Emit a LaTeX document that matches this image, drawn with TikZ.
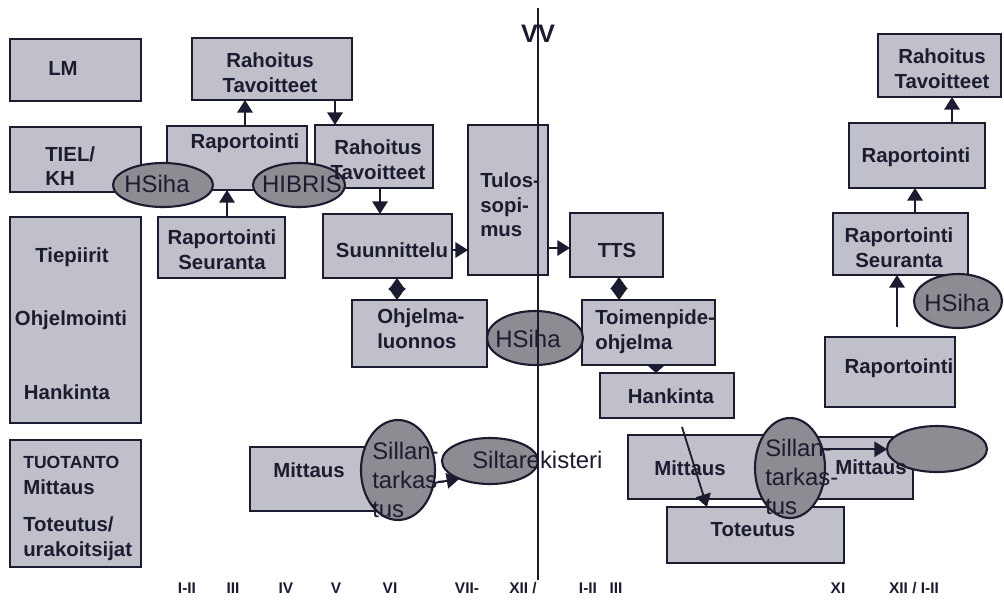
\documentclass[tikz,border=0pt]{standalone}
\usepackage{fontspec}
\setmainfont{Liberation Sans}
\usetikzlibrary{shapes.geometric,arrows.meta}

\definecolor{boxfill}{HTML}{C0C0CA}
\definecolor{ellfill}{HTML}{8C8C92}
\definecolor{ink}{HTML}{1C1C30}

\tikzset{
  box/.style={draw=ink, line width=1.6pt, fill=boxfill, inner sep=0pt, outer sep=0pt},
  ell/.style={ellipse, draw=ink, line width=1.5pt, fill=ellfill, inner sep=0pt, outer sep=0pt},
  bt/.style={font=\bfseries\fontsize{14.5}{17.5}\selectfont, text=ink, align=center, inner sep=0pt},
  btl/.style={bt, align=left},
  et/.style={font=\fontsize{17}{20.5}\selectfont, text=ink, inner sep=0pt, align=left},
  ax/.style={font=\bfseries\fontsize{11}{12}\selectfont, text=ink, inner sep=0pt},
  arr/.style={draw=ink, line width=1.3pt, -{Triangle[width=11pt,length=9pt]}},
  dia/.style={draw=ink, line width=1.3pt, {Triangle[width=12pt,length=8.6pt]}-{Triangle[width=12pt,length=8.6pt]}},
  tiny/.style={draw=ink, line width=1.3pt, -{Triangle[width=11pt,length=5pt]}},
}

% rectangle node from its corners (x1,y1)-(x2,y2), in pixel units
\newcommand\boxat[5]{\node[box, minimum width={(#4-#2)*0.025cm}, minimum height={(#5-#3)*0.025cm}] (#1) at ({(#2+#4)/2},{(#3+#5)/2}) {};}
% ellipse node from centre and radii
\newcommand\ellat[5]{\node[ell, minimum width={2*#4*0.025cm}, minimum height={2*#5*0.025cm}] (#1) at (#2,#3) {};}

\begin{document}
\begin{tikzpicture}[x=0.025cm, y=-0.025cm]
\useasboundingbox (0,0) rectangle (1004,600);
\fill[white] (0,0) rectangle (1004,600);

% organisation column
\boxat{lm}{10}{39}{141}{101}
\boxat{tiel}{10}{127}{141}{192}
\boxat{tiep}{10}{217}{141}{423}
\boxat{tuot}{10}{440}{141}{567}

% planning chain
\boxat{rt1}{192}{38}{352}{100}
\boxat{rap1}{167}{126}{307}{190}
\boxat{rt2}{315}{125}{433}{188}
\boxat{raps1}{158}{217}{285}{278}
\boxat{suun}{323}{214}{452}{278}
\boxat{tulos}{468}{125}{548}{275}
\boxat{tts}{570}{213}{663}{277}
\boxat{ohj}{352}{300}{487}{367}
\boxat{toim}{582}{300}{715}{365}
\boxat{hank}{600}{373}{734}{418}
\boxat{mit1}{250}{447}{385}{511}
\boxat{mit2}{628}{435}{800}{499}
\boxat{mit3}{770}{437}{913}{499}
\boxat{tot}{667}{507}{844}{563}

% reporting column
\boxat{rt3}{878}{34}{1001}{97}
\boxat{rap2}{849}{123}{985}{188}
\boxat{raps2}{833}{213}{968}{275}
\boxat{rapb}{825}{337}{955}{407}

% connectors
\draw[arr] (rap1.north -| 245,0) -- (rt1.south -| 245,0);
\draw[arr] (rt1.south -| 335,0) -- (rt2.north -| 335,0);
\draw[arr] (raps1.north -| 227,0) -- (rap1.south -| 227,0);
\draw[arr] (rt2.south -| 380,0) -- (suun.north -| 380,0);
\draw[arr] (suun.east |- 0,250) -- (tulos.west |- 0,250);
\draw[arr] (tulos.east |- 0,248) -- (tts.west |- 0,248);
\draw[dia] (suun.south -| 397,0) -- (ohj.north -| 397,0);
\draw[dia] (tts.south -| 619,0) -- (toim.north -| 619,0);
\draw[tiny] (toim.south -| 656,0) -- (hank.north -| 656,0);
\coordinate (hk) at (682,427);
\draw[arr] (hk) -- (tot.north -| 707,0);
\coordinate (rb) at (897,327);
\draw[arr] (rb) -- (raps2.south -| 897,0);
\draw[arr] (raps2.north -| 915,0) -- (rap2.south -| 915,0);
\draw[arr] (rap2.north -| 952,0) -- (rt3.south -| 952,0);

% systems
\ellat{hs1}{163}{185}{50}{22}
\ellat{hib}{299}{185}{46}{22}
\ellat{hs2}{535}{338}{48}{27}
\ellat{stl}{398}{470}{37}{50}
\ellat{sr}{490}{461}{48}{23}
\ellat{str}{790}{468}{35}{50}
\ellat{er}{937}{449}{50}{23}
\ellat{hs3}{958}{301}{44}{27}

\draw[arr] (stl.-20) -- (sr.210);
\draw[arr] (str.30) -- (er.west |- str.30);

% year boundary
\coordinate (vtop) at (538,8);
\coordinate (vbot) at (538,580);
\draw[ink, line width=1.2pt] (vtop) -- (vbot);
\node[font=\bfseries\fontsize{18}{20}\selectfont, text=ink, inner sep=0pt] (vv) at (538,34) {VV};

% box texts
\node[bt] (t-lm) at (63,68) {LM};
\node[btl, anchor=west] (t-tiel) at (45,166) {TIEL/\\KH};
\node[bt] (t-tiep1) at (72,257) {Tiepiirit};
\node[bt] (t-tiep2) at (71,320) {Ohjelmointi};
\node[bt] (t-tiep3) at (67,392) {Hankinta};
\node[bt, anchor=west, font=\bfseries\fontsize{12.5}{14}\selectfont] (t-tuot1) at (23,462) {TUOTANTO};
\node[bt, anchor=west] (t-tuot2) at (23,487) {Mittaus};
\node[btl, anchor=west] (t-tuot3) at (23,539) {Toteutus/\\urakoitsijat};

\node[bt] (t-rt1) at (270,73) {Rahoitus\\Tavoitteet};
\node[bt] (t-rap1) at (245,143) {Raportointi};
\node[bt] (t-rt2) at (378,160) {Rahoitus\\Tavoitteet};
\node[bt] (t-raps1) at (222,250) {Raportointi\\Seuranta};
\node[bt] (t-suun) at (392,250) {Suunnittelu};
\node[btl, anchor=west] (t-tulos) at (480,205) {Tulos-\\sopi-\\mus};
\node[bt] (t-tts) at (617,250) {TTS};
\node[btl, anchor=west] (t-ohj) at (377,329) {Ohjelma-\\luonnos};
\node[btl, anchor=west] (t-toim) at (595,332) {Toimenpide-\\ohjelma};
\node[bt] (t-hank) at (671,396) {Hankinta};
\node[bt] (t-mit1) at (309,470) {Mittaus};
\node[bt] (t-mit2) at (690,468) {Mittaus};
\node[bt] (t-mit3) at (871,467) {Mittaus};
\node[bt] (t-tot) at (753,530) {Toteutus};

\node[bt] (t-rt3) at (942,69) {Rahoitus\\Tavoitteet};
\node[bt] (t-rap2) at (916,157) {Raportointi};
\node[bt] (t-raps2) at (899,248) {Raportointi\\Seuranta};
\node[bt] (t-rapb) at (899,368) {Raportointi};

% system texts
\node[et] (t-hs1) at (157,184) {HSiha};
\node[et] (t-hib) at (302,184) {HIBRIS};
\node[et] (t-hs2) at (528,339) {HSiha};
\node[et] (t-hs3) at (957,303) {HSiha};
\node[et, anchor=west] (t-stl) at (372,480) {Sillan-\\tarkas-\\tus};
\node[et, anchor=west] (t-str) at (765,477) {Sillan-\\tarkas-\\tus};
\node[et, anchor=west] (t-sr) at (472,460) {Siltarekisteri};

% months
\node[ax] (m1) at (187,588) {I-II};
\node[ax] (m2) at (233,588) {III};
\node[ax] (m3) at (286,588) {IV};
\node[ax] (m4) at (336,588) {V};
\node[ax] (m5) at (390,588) {VI};
\node[ax] (m6) at (467,588) {VII-};
\node[ax] (m7) at (523,588) {XII /};
\node[ax] (m8) at (588,588) {I-II};
\node[ax] (m9) at (616,588) {III};
\node[ax] (m10) at (838,588) {XI};
\node[ax] (m11) at (914,588) {XII / I-II};
\end{tikzpicture}
\end{document}
